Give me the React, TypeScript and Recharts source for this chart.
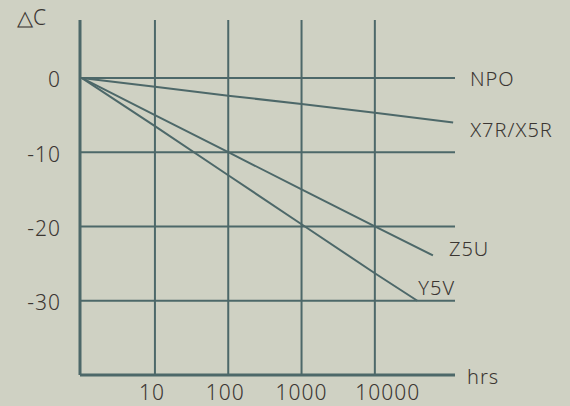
import { LineChart, Line, XAxis, YAxis, CartesianGrid } from 'recharts'

// hours (log axis) and capacitance change in %
const hrsTicks = [10, 100, 1000, 10000]
const dcTicks = [-30, -20, -10, 0]

const npoHrs = [1, 124000]
const npoDc = [0, 0]

const x7rHrs = [1, 10, 100, 1000, 10000, 117000]
const x7rDc = [0, -1.2, -2.4, -3.5, -4.7, -6]

const z5uHrs = [1, 10, 100, 1000, 10000, 62000]
const z5uDc = [0, -5, -10, -15, -20, -23.9]

const y5vHrs = [1, 10, 100, 1000, 10000, 38000]
const y5vDc = [0, -6.5, -13.1, -19.7, -26.3, -30]

const seriesNames = ['NPO', 'X7R/X5R', 'Z5U', 'Y5V']

const BG = '#cfd1c3'
const INK = '#4d6869'
const TEXT = '#3b3632'
const FONT = '"Noto Sans", "DejaVu Sans", sans-serif'

const toPoints = (hrs: number[], dc: number[]) => hrs.map((h, i) => ({ hrs: h, dc: dc[i] }))

const series = [
  { name: seriesNames[0], data: toPoints(npoHrs, npoDc), dx: 15, dy: 1 },
  { name: seriesNames[1], data: toPoints(x7rHrs, x7rDc), dx: 17, dy: 7 },
  { name: seriesNames[2], data: toPoints(z5uHrs, z5uDc), dx: 16, dy: -7 },
  { name: seriesNames[3], data: toPoints(y5vHrs, y5vDc), dx: 1, dy: -13 },
]

// the hand-set tick labels in the original sit a little off their grid lines
const tickShift: Record<number, number> = { 10: -3, 100: -3, 1000: 0, 10000: 13 }

function HrsTick(props: any) {
  const { x, y, payload } = props
  return (
    <text
      x={x + (tickShift[payload.value] ?? 0)}
      y={y}
      dy="0.71em"
      textAnchor="middle"
      fill={TEXT}
      fontSize={21}
      fontFamily={FONT}
      fontWeight={300}
      letterSpacing={1}
    >
      {payload.value}
    </text>
  )
}

function endLabel(name: string, count: number, dx: number, dy: number) {
  return (props: any) => {
    if (props.index !== count - 1) return null
    return (
      <text
        x={props.x + dx}
        y={props.y + dy}
        dy="0.36em"
        fill={TEXT}
        fontSize={20}
        fontFamily={FONT}
        fontWeight={300}
        letterSpacing={1}
      >
        {name}
      </text>
    )
  }
}

export default function App() {
  return (
    <div style={{ position: 'fixed', left: 0, top: 0, width: 570, height: 406, background: BG }}>
      <LineChart width={570} height={406} data={[]} margin={{ top: 20, right: 115, left: 0, bottom: 0 }}>
        <CartesianGrid stroke={INK} strokeWidth={2} horizontalValues={dcTicks} verticalValues={hrsTicks} />
        <XAxis
          dataKey="hrs"
          type="number"
          scale="log"
          domain={[0.95, 124000]}
          ticks={hrsTicks}
          allowDataOverflow
          height={31}
          tickSize={0}
          tickMargin={10}
          axisLine={{ stroke: INK, strokeWidth: 3 }}
          tick={<HrsTick />}
        />
        <YAxis
          type="number"
          domain={[-40, 7.8]}
          ticks={dcTicks}
          width={80}
          tickSize={0}
          tickMargin={19}
          axisLine={{ stroke: INK, strokeWidth: 3 }}
          tick={{ fill: TEXT, fontSize: 21, fontFamily: FONT, fontWeight: 300, letterSpacing: 1, dy: 2 }}
        />
        {series.map((s) => (
          <Line
            key={s.name}
            data={s.data}
            dataKey="dc"
            stroke={INK}
            strokeWidth={2}
            dot={false}
            isAnimationActive={false}
            label={endLabel(s.name, s.data.length, s.dx, s.dy)}
          />
        ))}
      </LineChart>
      <span
        style={{ position: 'absolute', left: 17, top: 3, fontSize: 21, fontWeight: 300, color: TEXT, fontFamily: FONT }}
      >
        △C
      </span>
      <span
        style={{
          position: 'absolute',
          left: 467,
          top: 363,
          fontSize: 20,
          fontWeight: 300,
          letterSpacing: 1,
          color: TEXT,
          fontFamily: FONT,
        }}
      >
        hrs
      </span>
    </div>
  )
}
